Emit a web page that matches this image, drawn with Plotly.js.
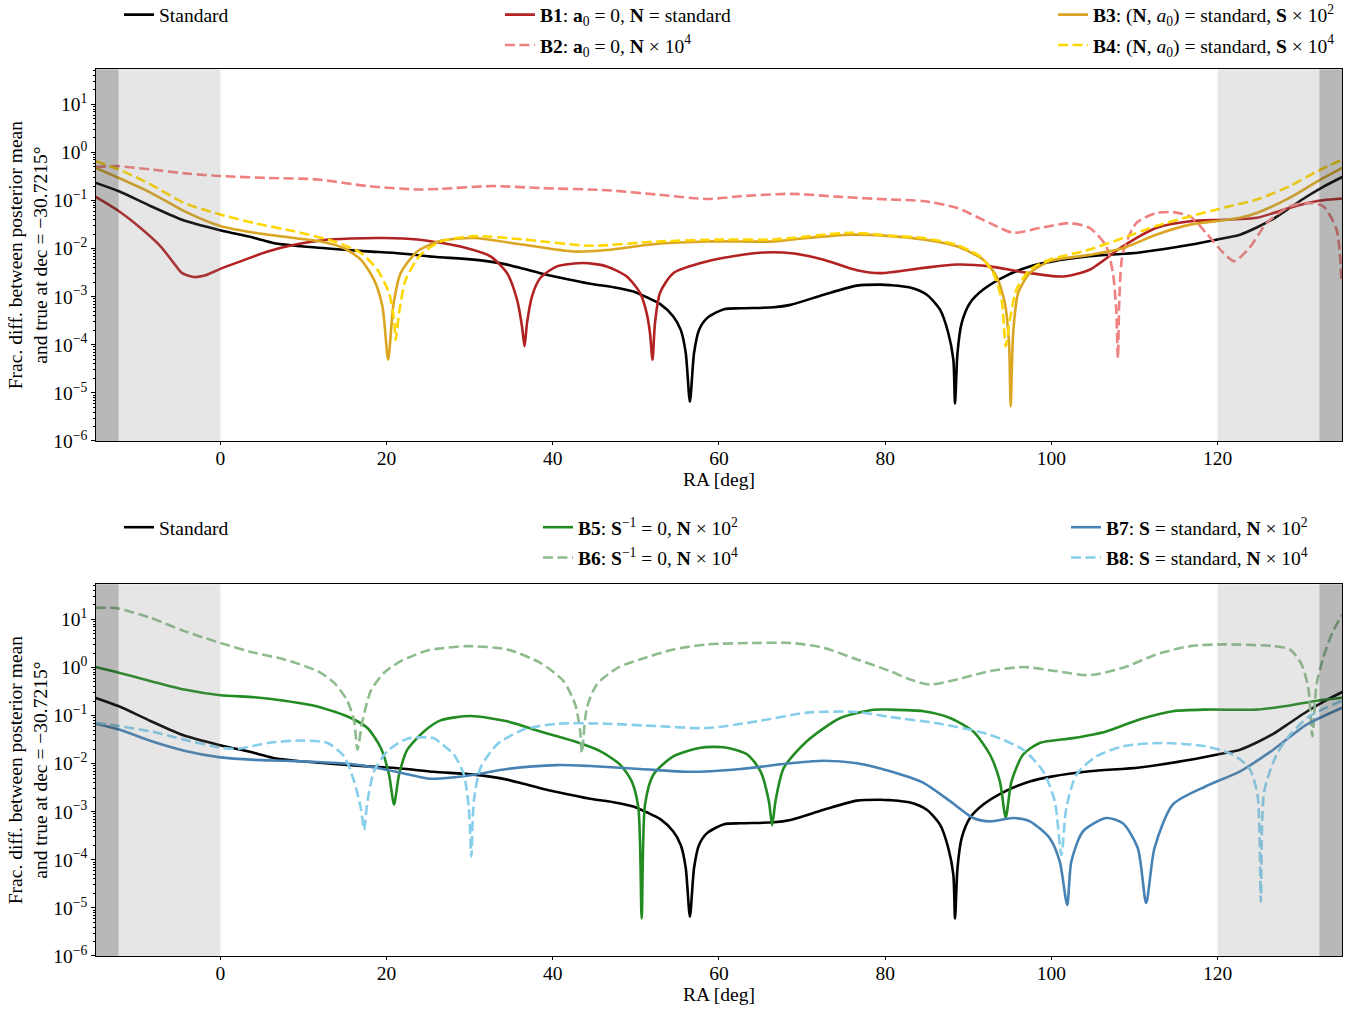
<!DOCTYPE html>
<html>
<head>
<meta charset="utf-8">
<script src="https://cdn.plot.ly/plotly-3.0.1.min.js"></script>
<style>
  html, body { margin: 0; padding: 0; background: #ffffff; }
  #chart { width: 1363px; height: 1013px; }
</style>
</head>
<body>
<div id="chart"></div>
<script>
// ---- Fractional difference between posterior mean and true sky, along dec = -30.7215 deg ----

// Standard run (shared by both panels)
const raStd = [-15, -12.2, -8.35, -4.35, 0, 4.1, 6.5, 9.7, 13.7, 17.7, 21.7, 25.7, 30.5, 34.5, 36.5, 38.5, 40.5, 44.5, 47.3, 49.7, 51.3, 52.9, 54.5, 55.4, 56.0, 56.5, 57.0, 57.6, 58.6, 60.6, 62.6, 66.6, 68.6, 72.6, 76.6, 79.4, 80.6, 83.0, 85.0, 86.6, 87.6, 88.2, 88.4, 88.7, 89.2, 90.2, 91.8, 94.6, 97.4, 100, 104.6, 110.6, 116.7, 120, 122.7, 124.7, 126.7, 128.7, 130.7, 132.7, 135];
const fracStd = [0.233, 0.156, 0.0762, 0.0383, 0.0241, 0.0167, 0.0129, 0.0112, 0.00984, 0.00879, 0.00794, 0.00676, 0.0059, 0.00465, 0.0038, 0.00309, 0.00257, 0.00186, 0.00158, 0.00129, 0.000977, 0.000708, 0.000389, 0.000204, 6.76e-5, 6.6e-6, 6.76e-5, 2.04e-4, 3.63e-4, 5.5e-4, 5.75e-4, 6.03e-4, 6.76e-4, 1.10e-3, 1.70e-3, 1.78e-3, 1.74e-3, 1.55e-3, 1.10e-3, 5.37e-4, 1.74e-4, 4.9e-5, 6.0e-6, 6.76e-5, 2.82e-4, 7.41e-4, 1.41e-3, 2.75e-3, 4.27e-3, 5.37e-3, 6.92e-3, 8.32e-3, 1.20e-2, 1.55e-2, 1.95e-2, 2.75e-2, 4.17e-2, 7.08e-2, 0.120, 0.193, 0.309];

// B1: a0 = 0, N = standard
const raB1 = [-15, -12.2, -9.6, -7.2, -5.6, -4.6, -3.2, -1.9, 0, 2.5, 5.7, 8.9, 12.1, 15.7, 19.7, 23.7, 26.5, 29.7, 32.5, 34.5, 35.7, 36.3, 36.6, 36.9, 37.5, 38.5, 40.5, 43.7, 46.5, 48.9, 50.5, 51.3, 51.7, 52.0, 52.3, 52.9, 54.5, 57.8, 60.6, 65.4, 69.0, 72.6, 76.6, 79.4, 84.6, 88.6, 92.6, 96.6, 101.4, 104.6, 108.6, 112.6, 116.7, 120.7, 124.7, 128.7, 132.0, 135];
const fracB1 = [0.119, 0.060, 0.0269, 0.0112, 0.00501, 0.00309, 0.00257, 0.00275, 0.0038, 0.0055, 0.0087, 0.0120, 0.0148, 0.0162, 0.0166, 0.0155, 0.0132, 0.0102, 0.00692, 0.00309, 0.00087, 0.00024, 9.3e-5, 0.000282, 0.00102, 0.00245, 0.00427, 0.00501, 0.00427, 0.00263, 0.0012, 0.000457, 0.000174, 4.9e-5, 0.000282, 0.0012, 0.00309, 0.00501, 0.00646, 0.00832, 0.00794, 0.00589, 0.00355, 0.00309, 0.00398, 0.00468, 0.00427, 0.00324, 0.00263, 0.00363, 0.0112, 0.0269, 0.0372, 0.0398, 0.0437, 0.0708, 0.0977, 0.110];

// B2: a0 = 0, N x 1e4
const raB2 = [-15, -12.4, -8.35, -3.95, 0, 5.7, 11.7, 17.7, 23.7, 26.5, 32.5, 38.5, 46.5, 52.6, 58.6, 62.6, 68.6, 74.6, 80.6, 84.6, 88.6, 92.6, 95.4, 98.6, 102.2, 104.6, 106.6, 107.4, 107.8, 108.0, 108.2, 108.6, 110.2, 112.6, 114.6, 116.7, 118.6, 120.7, 122.0, 123.8, 125.9, 128.7, 130.7, 132.7, 134.3, 134.9];
const fracB2 = [0.501, 0.519, 0.443, 0.363, 0.324, 0.295, 0.275, 0.200, 0.170, 0.175, 0.200, 0.182, 0.164, 0.133, 0.108, 0.123, 0.138, 0.119, 0.105, 0.0977, 0.0708, 0.0339, 0.0214, 0.0269, 0.0339, 0.0269, 0.0112, 0.00309, 0.000537, 5.25e-5, 0.0012, 0.00813, 0.0339, 0.055, 0.0575, 0.0468, 0.0214, 0.00813, 0.0055, 0.0102, 0.0339, 0.0759, 0.0891, 0.0759, 0.0251, 0.00224];

// B3: (N, a0) = standard, S x 1e2
const raB3 = [-15, -12.2, -8.35, -4.35, 0, 4.1, 8.9, 12.1, 14.9, 16.9, 18.5, 19.5, 20.2, 20.8, 21.7, 23.7, 26.5, 30.5, 36.5, 42.5, 46.5, 52.6, 58.6, 66.6, 70.6, 75.8, 80.6, 84.6, 88.6, 91.8, 93.4, 94.4, 94.9, 95.1, 95.4, 96.0, 97.4, 99.8, 104.6, 108.6, 112.6, 116.7, 120.7, 122.7, 124.7, 128.7, 132.0, 135];
const fracB3 = [0.479, 0.295, 0.145, 0.0603, 0.0295, 0.0214, 0.0166, 0.0141, 0.0102, 0.00589, 0.00224, 0.000631, 4.9e-5, 0.000631, 0.00309, 0.0087, 0.0145, 0.0166, 0.0120, 0.0087, 0.00933, 0.0126, 0.0141, 0.0141, 0.0166, 0.0195, 0.0182, 0.0155, 0.0112, 0.00589, 0.00263, 0.000741, 0.000107, 5.25e-6, 0.000174, 0.0012, 0.00309, 0.0055, 0.00741, 0.0102, 0.0195, 0.0316, 0.0389, 0.0437, 0.055, 0.115, 0.251, 0.479];

// B4: (N, a0) = standard, S x 1e4
const raB4 = [-15, -12.2, -8.35, -4.35, 0, 4.1, 8.9, 13.7, 16.9, 18.9, 20.3, 20.9, 21.1, 21.5, 22.3, 24.1, 26.5, 30.5, 36.5, 44.5, 52.6, 60.6, 66.6, 75.8, 80.6, 84.6, 88.6, 91.4, 93.0, 94.0, 94.5, 95.0, 95.8, 97.4, 99.8, 104.6, 108.6, 112.6, 116.7, 120.7, 124.7, 128.7, 132.0, 135];
const fracB4 = [0.661, 0.443, 0.215, 0.0891, 0.0513, 0.0339, 0.0229, 0.0141, 0.00813, 0.00363, 0.0012, 0.000331, 0.000126, 0.000457, 0.00224, 0.0075, 0.0141, 0.0182, 0.0155, 0.0115, 0.0141, 0.0155, 0.0155, 0.0214, 0.0186, 0.0166, 0.0120, 0.00692, 0.00309, 0.00087, 9.3e-5, 0.000331, 0.00141, 0.00363, 0.00589, 0.00955, 0.0166, 0.0295, 0.0468, 0.0708, 0.105, 0.200, 0.407, 0.714];

// B5: S^-1 = 0, N x 1e2
const raB5 = [-15, -12.2, -8.35, -4.35, 0, 4.1, 7.7, 11.7, 15.7, 17.7, 19.3, 20.3, 20.9, 21.5, 22.5, 24.5, 26.5, 30.1, 34.5, 38.5, 42.5, 45.7, 48.1, 49.5, 50.3, 50.7, 51.1, 52.1, 54.5, 57.8, 60.6, 63.4, 65.0, 66.0, 66.4, 66.8, 67.8, 70.6, 74.6, 78.6, 80.6, 84.6, 87.8, 90.6, 92.6, 93.8, 94.5, 95.2, 96.6, 98.6, 102.6, 106.6, 110.6, 114.6, 118.6, 124.7, 128.7, 132.0, 135];
const fracB5 = [1.02, 0.776, 0.519, 0.347, 0.265, 0.241, 0.204, 0.155, 0.0891, 0.055, 0.0214, 0.00589, 0.00141, 0.00589, 0.0195, 0.0468, 0.0794, 0.0977, 0.0759, 0.0468, 0.0295, 0.0182, 0.00955, 0.00427, 0.0012, 6.0e-6, 0.00141, 0.00589, 0.0141, 0.0214, 0.0219, 0.0155, 0.00692, 0.00166, 0.000525, 0.00166, 0.00813, 0.0295, 0.0891, 0.132, 0.133, 0.123, 0.0891, 0.0468, 0.0155, 0.00427, 0.000759, 0.00427, 0.0155, 0.0269, 0.0339, 0.0468, 0.0832, 0.123, 0.133, 0.133, 0.162, 0.204, 0.234];

// B6: S^-1 = 0, N x 1e4
const raB6 = [-15, -12.4, -8.35, -4.35, 0, 4.1, 7.7, 11.7, 13.7, 15.3, 16.1, 16.5, 17.1, 18.1, 19.7, 21.7, 24.9, 26.5, 29.7, 34.5, 38.5, 41.3, 42.7, 43.3, 43.5, 44.1, 45.3, 47.8, 50.5, 54.5, 58.6, 64.6, 68.6, 72.6, 76.6, 80.6, 83.0, 85.4, 88.6, 92.6, 96.6, 100.6, 104.6, 108.6, 112.6, 116.7, 120.7, 126.7, 128.7, 130.1, 130.9, 131.4, 131.9, 132.7, 133.8, 135];
const fracB6 = [17.4, 17.0, 10.7, 5.71, 3.24, 2.02, 1.47, 0.839, 0.479, 0.200, 0.0759, 0.0195, 0.0759, 0.324, 0.776, 1.35, 2.26, 2.49, 2.78, 2.37, 1.25, 0.519, 0.170, 0.0468, 0.0166, 0.145, 0.443, 0.984, 1.47, 2.37, 3.02, 3.24, 3.24, 2.57, 1.47, 0.839, 0.562, 0.443, 0.562, 0.839, 1.02, 0.839, 0.692, 0.984, 1.86, 2.78, 3.02, 2.78, 2.37, 1.16, 0.380, 0.0372, 0.443, 1.58, 5.25, 12.6];

// B7: S = standard, N x 1e2
const raB7 = [-15, -12.2, -8.35, -4.35, 0, 4.1, 7.7, 11.7, 15.7, 18.9, 21.7, 24.9, 26.5, 30.5, 34.5, 40.5, 44.5, 50.5, 56.55, 62.6, 68.6, 72.6, 76.6, 80.6, 84.6, 87.8, 90.6, 92.6, 95.4, 97.4, 99.8, 101.0, 101.9, 102.4, 103.8, 106.6, 108.6, 110.4, 111.4, 112.4, 114.6, 118.6, 122.7, 126.7, 130.7, 135];
const fracB7 = [0.0676, 0.0513, 0.0295, 0.0186, 0.0135, 0.0120, 0.0115, 0.0108, 0.00984, 0.00813, 0.00646, 0.0049, 0.0049, 0.00589, 0.00776, 0.00933, 0.00891, 0.00776, 0.00676, 0.00776, 0.0102, 0.0115, 0.0102, 0.00692, 0.00398, 0.00166, 0.000741, 0.000631, 0.000741, 0.000631, 0.000282, 9.3e-5, 1.15e-5, 9.3e-5, 0.000389, 0.000741, 0.000575, 0.000174, 1.26e-5, 0.000174, 0.00141, 0.00339, 0.00692, 0.0195, 0.0646, 0.145];

// B8: S = standard, N x 1e4
const raB8 = [-15, -12.2, -8.35, -4.35, 0, 2.1, 5.7, 9.7, 12.9, 14.9, 16.1, 16.9, 17.3, 17.7, 18.5, 20.1, 22.5, 25.7, 26.5, 28.1, 29.3, 29.9, 30.2, 30.5, 31.3, 33.3, 36.5, 40.5, 46.5, 52.6, 58.6, 64.6, 70.6, 76.6, 80.6, 86.6, 92.6, 96.6, 99.0, 100.4, 101.2, 101.8, 103.0, 105.4, 108.6, 113.4, 118.6, 121.8, 123.8, 124.8, 125.2, 125.6, 127.1, 128.7, 131.1, 135];
const fracB8 = [0.0708, 0.0603, 0.0468, 0.0316, 0.0214, 0.0204, 0.0269, 0.0302, 0.0269, 0.0141, 0.00427, 0.0012, 0.000422, 0.00166, 0.00692, 0.0182, 0.0331, 0.0339, 0.0269, 0.0155, 0.00589, 0.0012, 0.000117, 0.00166, 0.00813, 0.0251, 0.0513, 0.0676, 0.0676, 0.0603, 0.055, 0.0759, 0.115, 0.119, 0.0933, 0.0676, 0.0398, 0.0195, 0.00692, 0.00166, 0.000126, 0.0012, 0.00589, 0.0141, 0.0229, 0.0269, 0.0229, 0.0155, 0.00813, 0.00224, 1.35e-5, 0.00263, 0.0155, 0.0398, 0.0977, 0.204];

// Legend labels
const labelStd = 'Standard';
const labelB1 = '<b>B1</b>: <b>a</b><sub>0</sub> = 0, <b>N</b> = standard';
const labelB2 = '<b>B2</b>: <b>a</b><sub>0</sub> = 0, <b>N</b> × 10<sup>4</sup>';
const labelB3 = '<b>B3</b>: (<b>N</b>, <i>a</i><sub>0</sub>) = standard, <b>S</b> × 10<sup>2</sup>';
const labelB4 = '<b>B4</b>: (<b>N</b>, <i>a</i><sub>0</sub>) = standard, <b>S</b> × 10<sup>4</sup>';
const labelB5 = '<b>B5</b>: <b>S</b><sup>−1</sup> = 0, <b>N</b> × 10<sup>2</sup>';
const labelB6 = '<b>B6</b>: <b>S</b><sup>−1</sup> = 0, <b>N</b> × 10<sup>4</sup>';
const labelB7 = '<b>B7</b>: <b>S</b> = standard, <b>N</b> × 10<sup>2</sup>';
const labelB8 = '<b>B8</b>: <b>S</b> = standard, <b>N</b> × 10<sup>4</sup>';

// Axis ticks
const raTicks = [0, 20, 40, 60, 80, 100, 120];
const fracTicks = [1e-6, 1e-5, 1e-4, 1e-3, 1e-2, 1e-1, 1e0, 1e1];
const fracTickText = ['10<sup>−6</sup>', '10<sup>−5</sup>', '10<sup>−4</sup>', '10<sup>−3</sup>', '10<sup>−2</sup>', '10<sup>−1</sup>', '10<sup>0</sup>', '10<sup>1</sup>'];

// Masked RA ranges (edges of the field)
const maskOuter = [[-15, 0], [120, 135]];
const maskInner = [[-15, -12.25], [132.25, 135]];

const FONT = 'Liberation Serif';
const FS = 19.5;
const LW = 2.6;
const DASH = '10px,4.5px';

function series(x, y, name, color, dash, xa, ya, legend) {
  return {
    type: 'scatter', mode: 'lines', x: x, y: y, name: name,
    xaxis: xa, yaxis: ya, legend: legend, legendgroup: name,
    line: { color: color, width: LW, dash: dash, shape: 'spline', smoothing: 0.7 },
    hoverinfo: 'x+y+name'
  };
}

const traces = [
  series(raStd, fracStd, labelStd, '#000000', 'solid', 'x', 'y', 'legend'),
  series(raB1, fracB1, labelB1, '#B22222', 'solid', 'x', 'y', 'legend2'),
  series(raB2, fracB2, labelB2, '#F08080', DASH, 'x', 'y', 'legend2'),
  series(raB3, fracB3, labelB3, '#DAA520', 'solid', 'x', 'y', 'legend3'),
  series(raB4, fracB4, labelB4, '#FFD700', DASH, 'x', 'y', 'legend3'),
  series(raStd, fracStd, labelStd + ' ', '#000000', 'solid', 'x2', 'y2', 'legend4'),
  series(raB5, fracB5, labelB5, '#228B22', 'solid', 'x2', 'y2', 'legend5'),
  series(raB6, fracB6, labelB6, '#8FBC8F', DASH, 'x2', 'y2', 'legend5'),
  series(raB7, fracB7, labelB7, '#4682B4', 'solid', 'x2', 'y2', 'legend6'),
  series(raB8, fracB8, labelB8, '#87CEEB', DASH, 'x2', 'y2', 'legend6')
];

// minor log ticks 2..9 per decade
const minorVals = [];
for (let k = -6; k <= 1; k++) {
  for (let m = 2; m <= 9; m++) minorVals.push(m * Math.pow(10, k));
}

function xAxis(anchor) {
  return {
    anchor: anchor, domain: [0.0702, 0.9848], range: [-15, 135],
    tickmode: 'array', tickvals: raTicks, ticks: 'outside', ticklen: 3.5, tickwidth: 0.8, tickcolor: '#000',
    ticklabelstandoff: -4,
    showline: true, mirror: true, linecolor: '#000', linewidth: 1,
    showgrid: false, zeroline: false, automargin: false,
    tickfont: { family: FONT, size: FS, color: '#000' },
    title: { text: 'RA [deg]', font: { family: FONT, size: FS, color: '#000' }, standoff: 2 }
  };
}
function yAxis(anchor, domain) {
  return {
    anchor: anchor, domain: domain, type: 'log', range: [-6, 1.73],
    tickmode: 'array', tickvals: fracTicks, ticktext: fracTickText,
    ticks: 'outside', ticklen: 3.5, tickwidth: 0.8, tickcolor: '#000',
    minor: { tickmode: 'array', tickvals: minorVals, ticks: 'outside', ticklen: 2, tickwidth: 0.6, tickcolor: '#000', showgrid: false },
    showline: true, mirror: true, linecolor: '#000', linewidth: 1,
    showgrid: false, zeroline: false, automargin: false,
    tickfont: { family: FONT, size: FS, color: '#000' },
    title: { text: 'Frac. diff. between posterior mean<br>and true at dec = −30.7215°', font: { family: FONT, size: FS, color: '#000' }, standoff: 0 }
  };
}

const shapes = [];
[['x', 'y domain'], ['x2', 'y2 domain']].forEach(function (ref) {
  maskOuter.forEach(function (r) {
    shapes.push({ type: 'rect', xref: ref[0], yref: ref[1], x0: r[0], x1: r[1], y0: 0, y1: 1,
      fillcolor: 'rgba(128,128,128,0.2)', line: { width: 0 }, layer: 'above' });
  });
  maskInner.forEach(function (r) {
    shapes.push({ type: 'rect', xref: ref[0], yref: ref[1], x0: r[0], x1: r[1], y0: 0, y1: 1,
      fillcolor: 'rgba(0,0,0,0.2)', line: { width: 0 }, layer: 'above' });
  });
});

function legendBox(x, y) {
  return {
    x: x, y: y, xanchor: 'left', yanchor: 'top', orientation: 'v',
    bgcolor: 'rgba(0,0,0,0)', borderwidth: 0, tracegroupgap: 2,
    font: { family: FONT, size: FS, color: '#000' }
  };
}

const layout = {
  width: 1363, height: 1013,
  margin: { l: 0, r: 0, t: 0, b: 0, autoexpand: false },
  paper_bgcolor: '#ffffff', plot_bgcolor: '#ffffff',
  font: { family: FONT, size: FS, color: '#000' },
  showlegend: true,
  xaxis: xAxis('y'),
  yaxis: yAxis('x', [0.5647, 0.9316]),
  xaxis2: xAxis('y2'),
  yaxis2: yAxis('x2', [0.0563, 0.4232]),
  legend: legendBox(0.0873, 1.0045),
  legend2: legendBox(0.3668, 1.0045),
  legend3: legendBox(0.7726, 1.0045),
  legend4: legendBox(0.0873, 0.4985),
  legend5: legendBox(0.3947, 0.4985),
  legend6: legendBox(0.7821, 0.4985),
  shapes: shapes
};

Plotly.newPlot('chart', traces, layout, { displayModeBar: false });
</script>
</body>
</html>
